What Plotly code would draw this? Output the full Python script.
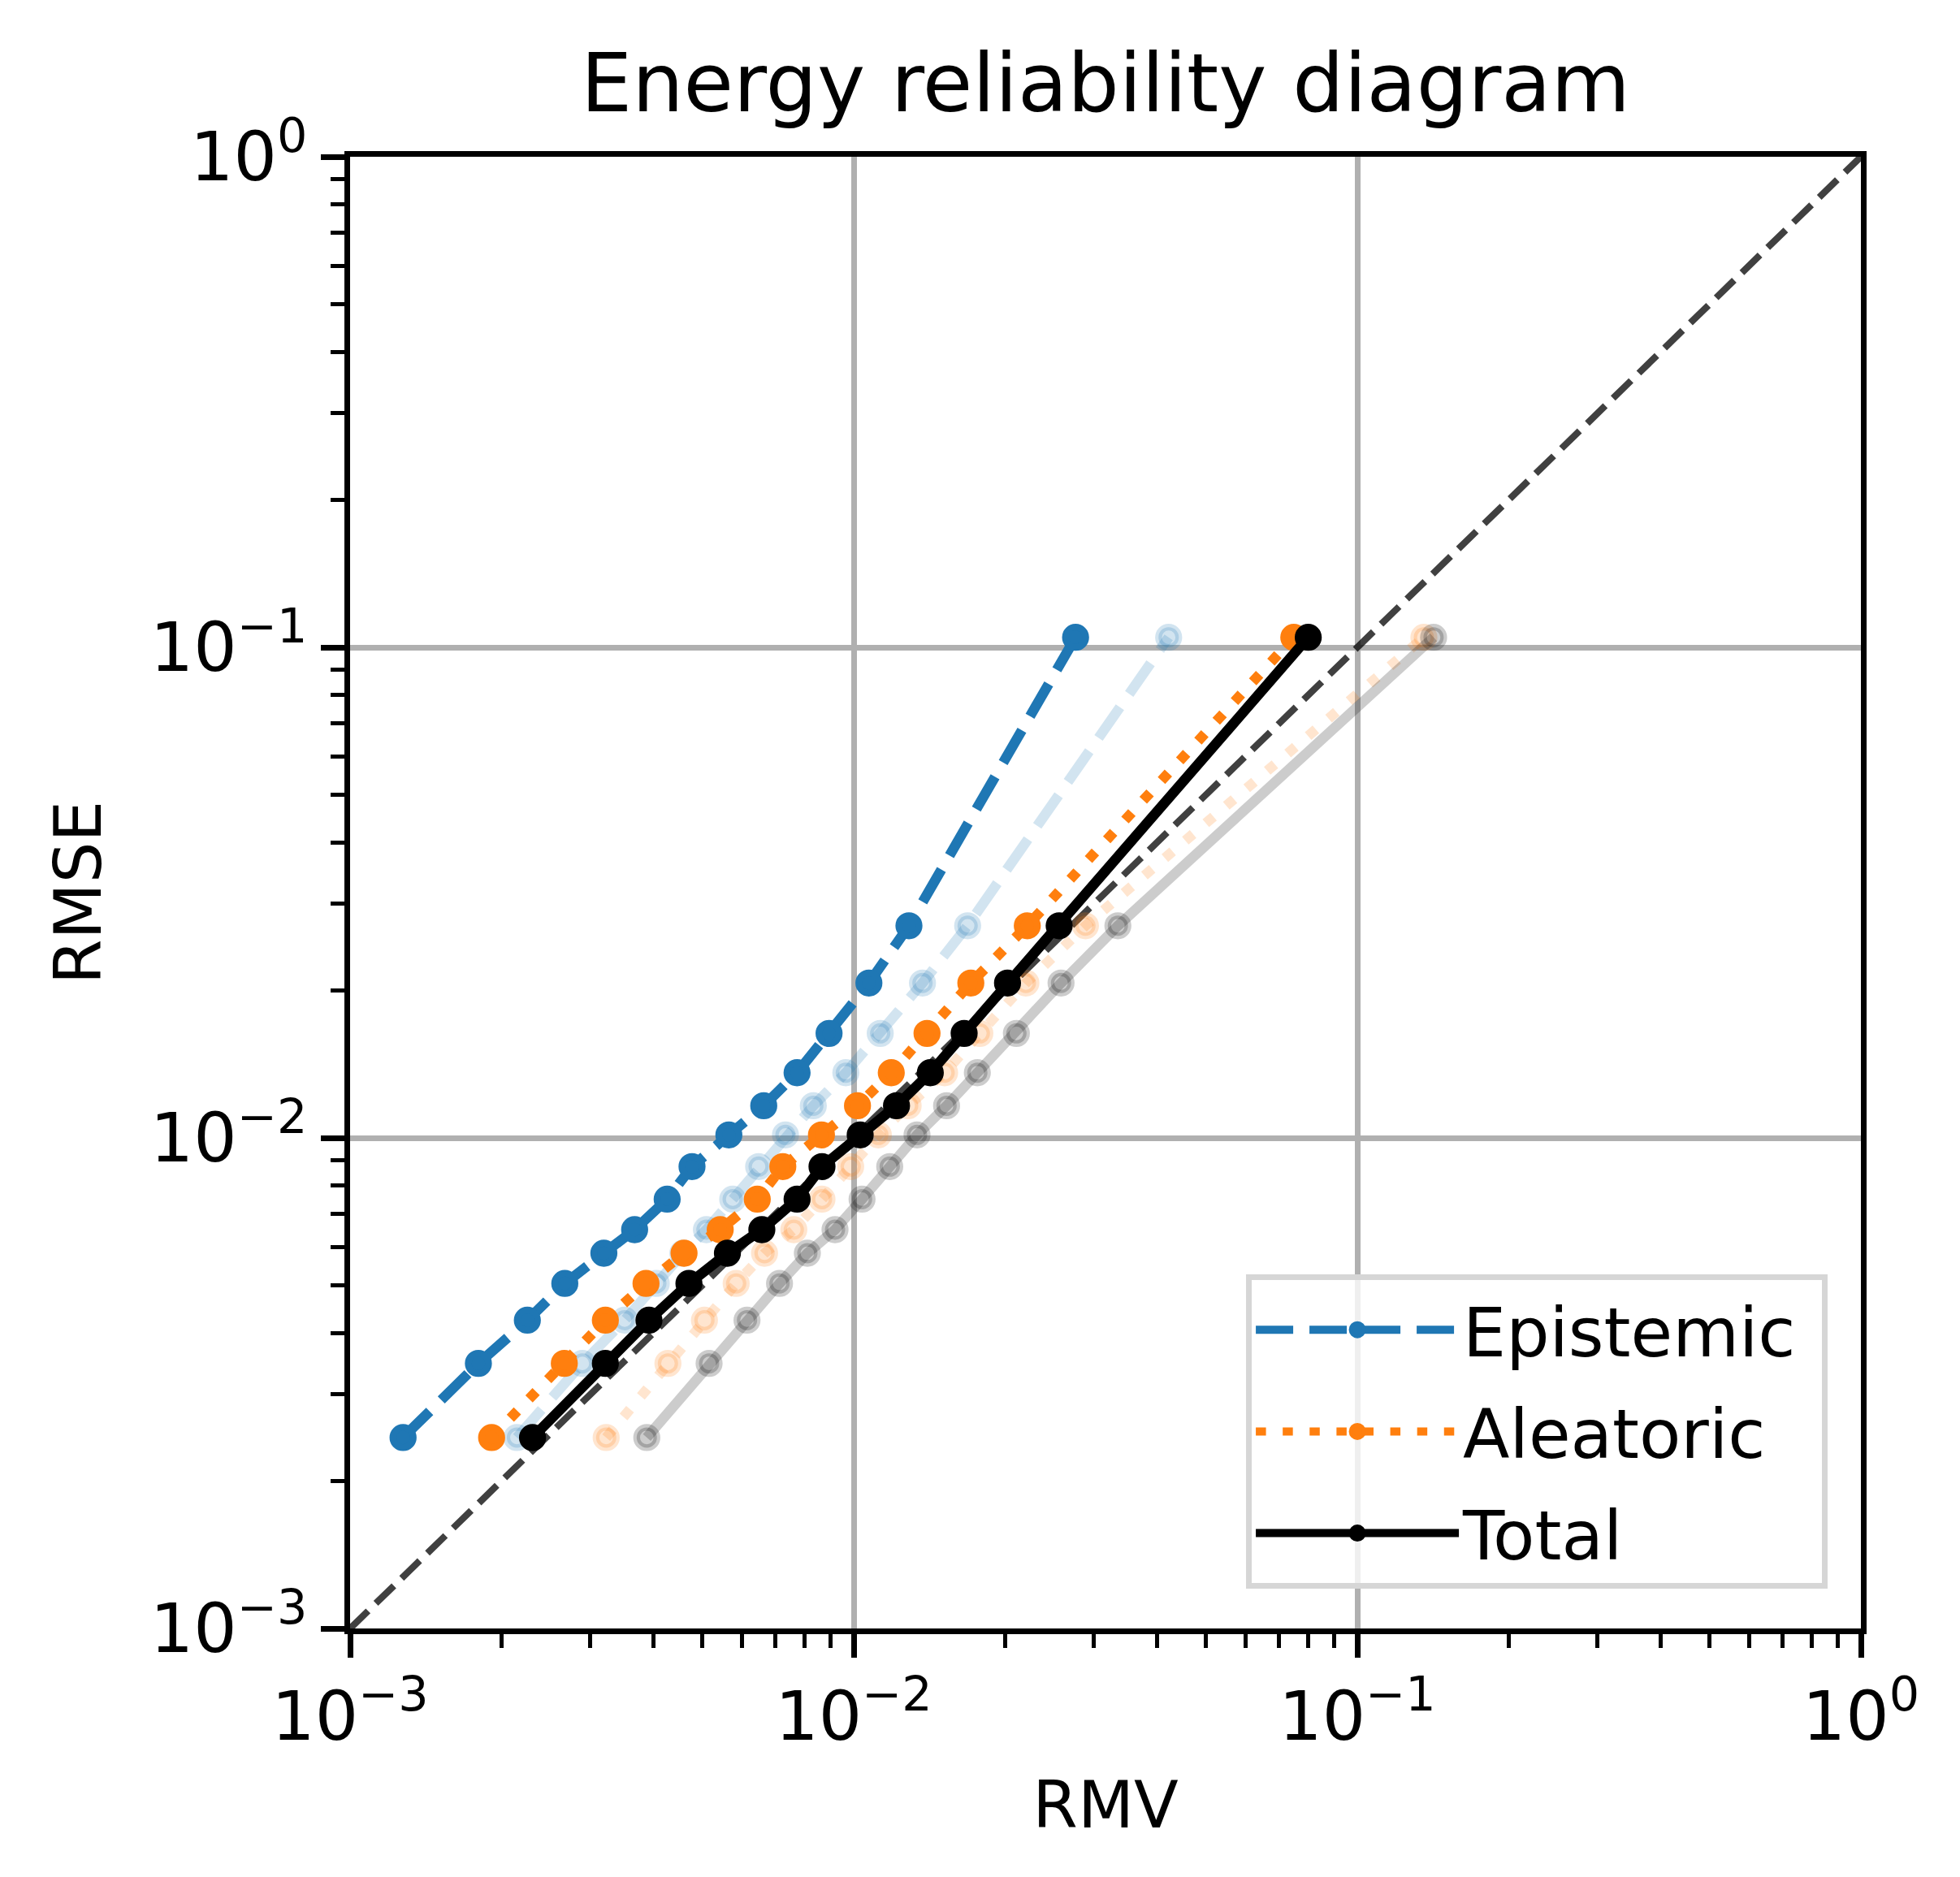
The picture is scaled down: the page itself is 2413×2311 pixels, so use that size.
import plotly.graph_objects as go

# RMSE per bin (shared by every curve)
rmse = [0.00245, 0.00347, 0.00425, 0.00505, 0.00582, 0.0065, 0.0075, 0.00874,
        0.01014, 0.01163, 0.01358, 0.01633, 0.02069, 0.02707, 0.1048]

# RMV per bin, calibrated
rmv_epistemic = [0.001274, 0.001798, 0.002249, 0.002669, 0.003191, 0.003673, 0.004262, 0.004775,
                 0.005651, 0.006628, 0.007719, 0.008935, 0.01072, 0.012874, 0.02758]
rmv_aleatoric = [0.00191, 0.002663, 0.003213, 0.003869, 0.004604, 0.005432, 0.006435, 0.007232,
                 0.008629, 0.010175, 0.011875, 0.013983, 0.017084, 0.022116, 0.0748]
rmv_total = [0.002303, 0.003213, 0.003922, 0.004708, 0.005614, 0.006571, 0.007719, 0.008651,
             0.010301, 0.012162, 0.014195, 0.01657, 0.020204, 0.025586, 0.07991]

# RMV per bin, faded curves
rmv_epistemic_faded = [0.002144, 0.002892, 0.003509, 0.004056, 0.00458, 0.0051, 0.005751, 0.006475,
                       0.00732, 0.008315, 0.009647, 0.01129, 0.013696, 0.016837, 0.04221]
rmv_aleatoric_faded = [0.003225, 0.004277, 0.005054, 0.005843, 0.006652, 0.007605, 0.008651, 0.009863,
                       0.011193, 0.012826, 0.015155, 0.017802, 0.021975, 0.028854, 0.13558]
rmv_total_faded = [0.003883, 0.005163, 0.00614, 0.007124, 0.008091, 0.009182, 0.010389, 0.011791,
                   0.013358, 0.015291, 0.0176, 0.021041, 0.025806, 0.033466, 0.14173]

diag = [1e-3, 1.0]

tick_vals = [1e-3, 1e-2, 1e-1, 1.0]
tick_text = ['10<sup>\u22123</sup>', '10<sup>\u22122</sup>', '10<sup>\u22121</sup>', '10<sup>0</sup>']
minor_vals = [m * 10.0 ** e for e in (-3, -2, -1) for m in range(2, 10)]

BLUE = '31,119,180'
ORANGE = '255,127,14'
BLACK = '0,0,0'

LW = 12.5
DASH = '46px,20px'
DOT = '12.5px,20.6px'


def curve(x, rgb, dash, alpha, name, legend):
    col = 'rgba(%s,%s)' % (rgb, alpha)
    return go.Scatter(
        x=x, y=rmse, mode='lines+markers', name=name + '\u00a0', showlegend=legend,
        legendgroup=name,
        line=dict(color=col, width=LW, dash=dash),
        marker=dict(color=col, size=25, line=dict(color=col, width=8.3)),
    )


traces = [
    go.Scatter(x=diag, y=diag, mode='lines', showlegend=False,
               line=dict(color='rgba(0,0,0,0.75)', width=8.3, dash='31px,13.3px')),
    curve(rmv_epistemic, BLUE, DASH, 1, 'Epistemic', True),
    curve(rmv_epistemic_faded, BLUE, DASH, 0.2, 'Epistemic', False),
    curve(rmv_aleatoric, ORANGE, DOT, 1, 'Aleatoric', True),
    curve(rmv_aleatoric_faded, ORANGE, DOT, 0.2, 'Aleatoric', False),
    curve(rmv_total, BLACK, 'solid', 1, 'Total', True),
    curve(rmv_total_faded, BLACK, 'solid', 0.2, 'Total', False),
]

axis = dict(
    type='log', range=[-3, 0], showgrid=True, gridcolor='#b0b0b0', gridwidth=6.7,
    zeroline=False, showline=True, linecolor='black', linewidth=6.7, mirror=True,
    ticks='outside', ticklen=29, tickwidth=6.7, tickcolor='black',
    tickvals=tick_vals, ticktext=tick_text, tickfont=dict(size=84),
    minor=dict(tickvals=minor_vals, ticks='outside', ticklen=17, tickwidth=5,
               tickcolor='black', showgrid=False),
)

layout = go.Layout(
    width=2413, height=2311,
    margin=dict(l=423, r=130, t=185, b=314),
    plot_bgcolor='white', paper_bgcolor='white',
    font=dict(family='DejaVu Sans', size=84, color='black'),
    title=dict(text='Energy reliability diagram', x=0.5, xref='paper', xanchor='center',
               y=1, yref='paper', yanchor='bottom', pad=dict(b=56), font=dict(size=100)),
    xaxis=dict(axis, title=dict(text='RMV', standoff=36, font=dict(size=80))),
    yaxis=dict(axis, title=dict(text='RMSE', standoff=36, font=dict(size=80))),
    legend=dict(x=0.978, y=0.027, xanchor='right', yanchor='bottom',
                bgcolor='rgba(255,255,255,0.8)', bordercolor='#d6d6d6', borderwidth=7,
                font=dict(size=84), itemwidth=250, tracegroupgap=13),
)

fig = go.Figure(data=traces, layout=layout)
fig.write_html('out.html')
